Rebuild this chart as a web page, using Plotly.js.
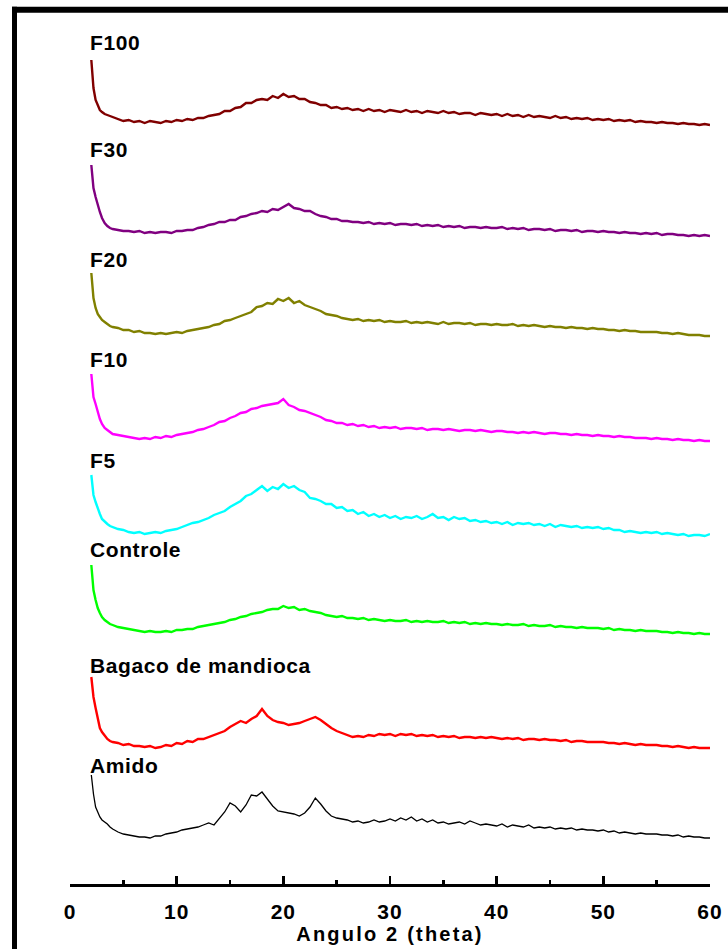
<!DOCTYPE html>
<html>
<head>
<meta charset="utf-8">
<script src="https://cdn.plot.ly/plotly-3.0.1.min.js"></script>
<style>
html,body{margin:0;padding:0;background:#fff;}
#chart{width:728px;height:949px;}
.annotation-text{letter-spacing:0.6px;}
.xtick text{letter-spacing:1px;}
.xtitle{letter-spacing:2.2px;}
</style>
</head>
<body>
<div id="chart"></div>
<script>
// 2-theta angle (degrees)
const angle = [2,2.1,2.2,2.4,2.6,2.8,3,3.25,3.5,3.75,4,
4.5,5,5.5,6,6.5,7,7.5,8,8.5,9,
9.5,10,10.5,11,11.5,12,12.5,13,13.5,14,
14.5,15,15.5,16,16.5,17,17.5,18,18.5,19,
19.5,20,20.5,21,21.5,22,22.5,23,23.5,24,
24.5,25,25.5,26,26.5,27,27.5,28,28.5,29,
29.5,30,30.5,31,31.5,32,32.5,33,33.5,34,
34.5,35,35.5,36,36.5,37,37.5,38,38.5,39,
39.5,40,40.5,41,41.5,42,42.5,43,43.5,44,
44.5,45,45.5,46,46.5,47,47.5,48,48.5,49,
49.5,50,50.5,51,51.5,52,52.5,53,53.5,54,
54.5,55,55.5,56,56.5,57,57.5,58,58.5,59,
59.5,60];

// stacked intensities (arbitrary units, offset per sample)
const F100 = [840,825,812,800,794,790,788,786,785,784,783,
781,779,780,778,779,777,779,778,777,779,
778,780,779,781,780,782,782,784,785,786,
789,789,792,793,797,797,800,801,800,804,
802,806,803,804,801,801,798,797,795,795,
792,793,791,792,790,791,789,791,789,790,
788,790,789,788,790,788,789,787,789,788,
787,789,787,788,786,787,787,785,787,786,
785,786,784,786,784,785,783,785,783,784,
783,782,784,782,783,781,782,781,782,780,
781,780,781,779,780,779,780,778,779,778,
778,777,778,777,777,776,777,776,776,775,
776,775];

const F30 = [735,722,712,703,695,688,682,677,674,672,671,
670,669,669,668,669,667,668,667,668,668,
667,669,669,670,670,672,673,675,676,678,
678,680,680,683,684,686,687,689,688,691,
690,693,696,692,691,689,689,686,684,683,
681,681,679,679,678,678,677,678,676,677,
676,677,675,676,676,675,676,674,675,674,
675,673,674,673,674,672,673,673,672,673,
672,672,673,671,672,671,672,670,671,671,
670,671,669,670,670,669,670,668,669,669,
668,669,668,668,667,668,667,667,666,667,
666,667,665,666,666,665,665,664,665,664,
665,664];

const F20 = [627,612,602,592,586,583,580,578,576,574,573,
572,570,570,568,569,567,567,566,567,566,
567,568,567,569,570,571,572,573,575,576,
579,580,582,584,586,588,593,594,597,596,
601,599,602,597,599,595,593,591,589,586,
585,584,582,581,580,581,579,580,579,580,
578,579,578,578,579,577,578,577,578,577,
576,578,576,577,577,576,577,575,576,576,
575,576,575,575,576,574,575,574,575,574,
573,574,573,573,572,573,572,572,571,572,
571,571,570,570,569,570,569,569,568,568,
568,568,567,567,566,567,566,565,565,565,
564,564];

const F10 = [526,512,503,496,488,481,476,472,470,468,466,
465,464,463,462,461,462,461,463,462,464,
463,465,466,467,468,470,471,473,475,478,
479,482,484,487,488,491,492,494,495,496,
497,501,495,493,490,489,487,485,483,480,
479,477,477,475,476,474,475,473,474,472,
473,472,473,471,472,472,471,472,470,471,
471,470,471,470,469,470,470,469,470,469,
468,469,469,468,468,467,468,467,468,467,
466,467,467,466,466,465,466,465,465,464,
465,464,464,463,464,463,463,462,462,462,
461,462,461,461,460,461,460,460,459,460,
459,459];

const F5 = [425,415,405,398,391,386,381,378,376,374,373,
371,370,368,367,368,366,367,368,367,369,
370,371,373,375,377,378,380,382,385,387,
389,393,396,399,404,406,410,414,409,413,
411,416,412,414,410,408,402,401,399,396,
396,392,393,389,390,386,388,384,386,383,
385,382,384,381,383,382,384,381,383,386,
382,383,380,383,381,382,379,380,378,379,
377,378,376,378,375,377,376,377,375,376,
374,376,373,375,374,373,374,372,373,372,
373,371,372,370,370,368,369,368,367,368,
367,368,366,367,366,365,366,364,365,365,
364,366];

const Controle = [335,322,310,300,292,287,283,280,278,276,275,
273,272,271,270,269,268,269,268,268,269,
268,270,270,271,271,273,274,275,276,277,
278,280,281,283,284,286,287,288,290,291,
291,294,292,293,290,291,289,288,287,285,
284,283,284,282,282,281,282,280,281,280,
279,280,279,279,280,278,279,278,279,278,
278,279,277,278,277,278,276,277,276,277,
276,276,275,276,275,275,276,274,275,274,
274,275,273,274,273,273,272,273,272,272,
272,271,272,270,271,270,270,269,270,269,
269,269,268,268,267,268,267,267,266,267,
266,266];

const Bagaco = [223,212,203,192,180,172,168,164,161,159,158,
157,155,156,154,154,153,154,152,153,155,
154,157,156,159,158,161,161,163,165,167,
169,173,176,179,177,181,184,191,184,180,
178,177,175,176,177,179,181,183,180,176,
172,169,167,165,163,164,163,165,164,166,
165,166,164,166,165,166,164,165,164,165,
163,164,163,164,162,163,163,162,163,162,
163,162,161,162,161,162,160,161,161,160,
161,160,160,159,160,158,159,159,158,158,
158,158,157,157,156,157,156,155,156,155,
155,155,154,154,153,154,153,152,153,152,
152,152];

const Amido = [125,113,106,93,87,83,80,78,76,73,71,
68,66,65,64,63,63,62,64,64,66,
67,68,70,71,72,73,75,77,75,81,
88,97,94,88,95,105,104,108,101,94,
89,88,87,86,84,87,93,102,96,89,
84,82,81,80,78,79,77,78,80,78,
79,81,79,82,80,83,79,81,78,80,
77,78,76,77,78,76,79,77,75,76,
75,74,76,73,75,74,73,75,72,73,
72,73,71,72,71,72,70,71,70,70,
69,70,68,69,67,68,67,66,67,66,
66,66,65,65,64,65,63,64,63,63,
62,62];

const names = ["F100","F30","F20","F10","F5","Controle","Bagaco de mandioca","Amido"];
const seriesList = [F100,F30,F20,F10,F5,Controle,Bagaco,Amido];
const colors = ["#800000","#800080","#808000","#ff00ff","#00ffff","#00ff00","#ff0000","#000000"];
const widths = [2.4,2.4,2.4,2.4,2.4,2.4,2.4,1.3];
const labelY = [857.5,751,641,541,440,350.5,234.5,135];

const traces = seriesList.map((s,i)=>({
  x: angle, y: s, type:'scatter', mode:'lines', name:names[i],
  line:{color:colors[i], width:widths[i]}, hoverinfo:'skip'
}));

const fontFam = "'Liberation Sans', Arial, Helvetica, sans-serif";
const annotations = names.map((n,i)=>({
  text:n, xref:'paper', yref:'y', x:(88-70)/640, y:labelY[i],
  xanchor:'left', yanchor:'middle', showarrow:false,
  font:{family:fontFam, size:21, color:'#000', weight:700}
}));

const layout = {
  width:728, height:949,
  margin:{l:70, r:18, t:0, b:65, pad:0},
  paper_bgcolor:'#fff', plot_bgcolor:'#fff',
  showlegend:false,
  xaxis:{
    range:[0,60], showgrid:false, zeroline:false,
    showline:true, linecolor:'#000', linewidth:3,
    ticks:'inside', ticklen:8, tickwidth:2.5, tickcolor:'#000',
    tick0:0, dtick:10, ticklabelstandoff:7,
    minor:{ticks:'inside', dtick:5, ticklen:4, tickwidth:2.5, tickcolor:'#000'},
    tickfont:{family:fontFam, size:21, color:'#000', weight:700},
    title:{text:'Angulo 2 (theta)', standoff:4,
      font:{family:fontFam, size:20, color:'#000', weight:700}}
  },
  yaxis:{range:[16,900], visible:false, showgrid:false, zeroline:false},
  annotations: annotations,
  shapes:[
    {type:'rect', xref:'paper', yref:'paper', x0:-0.090625, x1:1.03, y0:0.98563, y1:0.99242,
     fillcolor:'#000', line:{width:0}},
    {type:'rect', xref:'paper', yref:'paper', x0:-0.090625, x1:-0.082813, y0:-0.0736, y1:0.99242,
     fillcolor:'#000', line:{width:0}}
  ]
};

Plotly.newPlot('chart', traces, layout, {displayModeBar:false, staticPlot:true});
</script>
</body>
</html>
